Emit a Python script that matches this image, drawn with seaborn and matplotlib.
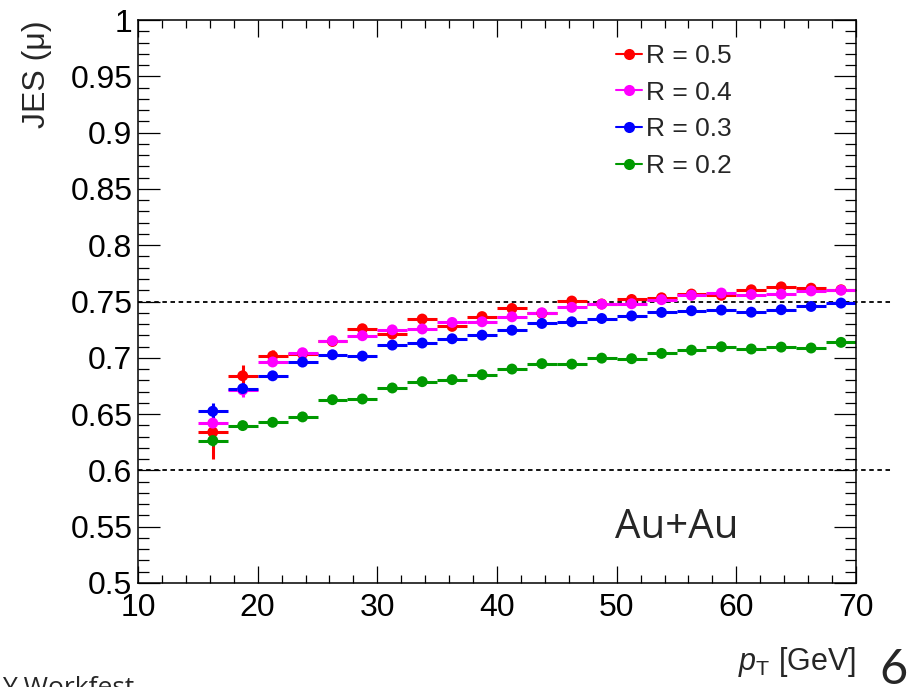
import matplotlib
matplotlib.use("Agg")
import matplotlib.pyplot as plt
from matplotlib.lines import Line2D
from matplotlib.ticker import MultipleLocator, FixedLocator
import numpy as np
import pandas as pd
import seaborn as sns

# ---------------- data ----------------
pt_bins = [16.25, 18.75, 21.25, 23.75, 26.25, 28.75, 31.25, 33.75, 36.25, 38.75, 41.25,
           43.75, 46.25, 48.75, 51.25, 53.75, 56.25, 58.75, 61.25, 63.75, 66.25, 68.75]
pt_halfwidth = 1.25

jes_r05 = [0.634, 0.684, 0.7016, 0.7035, 0.7145, 0.7258, 0.7211, 0.7344, 0.7279, 0.7366, 0.7438,
           0.7395, 0.7504, 0.7478, 0.7518, 0.7533, 0.7566, 0.7555, 0.7604, 0.7630, 0.7618, 0.7604]
jes_r04 = [0.642, 0.6714, 0.6963, 0.7045, 0.7152, 0.7196, 0.7248, 0.7256, 0.7314, 0.7320, 0.7364,
           0.7400, 0.7448, 0.7476, 0.7480, 0.7516, 0.7555, 0.7575, 0.7562, 0.7565, 0.7594, 0.7600]
jes_r03 = [0.6525, 0.6726, 0.6840, 0.6962, 0.7027, 0.7015, 0.7113, 0.7131, 0.7169, 0.7201, 0.7245,
           0.7305, 0.7320, 0.7349, 0.7372, 0.7403, 0.7418, 0.7424, 0.7405, 0.7427, 0.7456, 0.7486]
jes_r02 = [0.6265, 0.6398, 0.6427, 0.6475, 0.6628, 0.6634, 0.6732, 0.6788, 0.6806, 0.6850, 0.6900,
           0.6948, 0.6944, 0.6997, 0.6992, 0.7039, 0.7068, 0.7098, 0.7078, 0.7095, 0.7087, 0.7137]

err_r05 = [0.024, 0.0095, 0.005] + [0.002] * 19
err_r04 = [0.004, 0.006, 0.003] + [0.002] * 19
err_r03 = [0.007, 0.005, 0.002] + [0.002] * 19
err_r02 = [0.005, 0.003, 0.002] + [0.002] * 19

series_labels = ["R = 0.5", "R = 0.4", "R = 0.3", "R = 0.2"]
series_colors = ["#ff0000", "#ff00ff", "#0000ff", "#009900"]
series_values = [jes_r05, jes_r04, jes_r03, jes_r02]
series_errors = [err_r05, err_r04, err_r03, err_r02]

y_ticks = [0.5, 0.55, 0.6, 0.65, 0.7, 0.75, 0.8, 0.85, 0.9, 0.95, 1.0]
y_ticklabels = ["0.5", "0.55", "0.6", "0.65", "0.7", "0.75", "0.8", "0.85", "0.9", "0.95", "1"]
x_ticks = [10, 20, 30, 40, 50, 60, 70]
x_ticklabels = ["10", "20", "30", "40", "50", "60", "70"]
ref_lines = [0.75, 0.6]

# ---------------- style ----------------
sns.set_theme(style="ticks")
plt.rcParams["font.family"] = ["Liberation Sans", "DejaVu Sans"]
plt.rcParams["mathtext.fontset"] = "custom"
plt.rcParams["mathtext.rm"] = "Liberation Sans"
plt.rcParams["mathtext.it"] = "Liberation Sans:italic"

W, H = 914, 687
fig = plt.figure(figsize=(W / 100, H / 100), dpi=100)
ax_l, ax_r, ax_t, ax_b = 138, 856, 20, 583
ax = fig.add_axes([ax_l / W, 1 - ax_b / H, (ax_r - ax_l) / W, (ax_b - ax_t) / H])

rows = []
for lab, vals, errs in zip(series_labels, series_values, series_errors):
    for x, v, e in zip(pt_bins, vals, errs):
        rows.append({"pt": x, "jes": v, "err": e, "series": lab})
df = pd.DataFrame(rows)

for lab, col in zip(series_labels, series_colors):
    d = df[df["series"] == lab]
    ax.errorbar(d["pt"], d["jes"], xerr=pt_halfwidth, yerr=d["err"], fmt="none",
                ecolor=col, elinewidth=2.2, capsize=0, zorder=2)

sns.scatterplot(data=df, x="pt", y="jes", hue="series", hue_order=series_labels,
                palette=series_colors, s=62, edgecolor="none", legend=False, ax=ax, zorder=3)

for yv in ref_lines:
    ax.axhline(yv, xmin=0, xmax=(892 - ax_l) / (ax_r - ax_l), color="black", lw=1.3,
               ls=(0, (2.5, 2.0)), clip_on=False, zorder=1)

ax.set_xlim(10, 70)
ax.set_ylim(0.5, 1.0)
ax.xaxis.set_major_locator(FixedLocator(x_ticks))
ax.set_xticklabels(x_ticklabels)
ax.xaxis.set_minor_locator(MultipleLocator(2))
ax.yaxis.set_major_locator(FixedLocator(y_ticks))
ax.set_yticklabels(y_ticklabels)
ax.yaxis.set_minor_locator(MultipleLocator(0.01))
ax.set_xlabel("")
ax.set_ylabel("")

for s in ax.spines.values():
    s.set_linewidth(1.1)
    s.set_color("black")

ax.tick_params(axis="both", which="both", direction="in", top=True, right=True,
               colors="black", labelsize=23, width=0.9)
ax.tick_params(axis="y", which="major", length=16, pad=4)
ax.tick_params(axis="y", which="minor", length=8)
ax.tick_params(axis="x", which="major", length=12, pad=7)
ax.tick_params(axis="x", which="minor", length=6)

# axis titles
fig.text(37 / W, 1 - 20 / H, "JES (μ)", rotation=90, ha="center", va="top", fontsize=23)
fig.text(856 / W, 1 - 670 / H, r"$p_{\mathrm{T}}$ [GeV]", ha="right", va="baseline", fontsize=22)

# annotation
ax.text(49.85, 0.5396, "Au+Au", ha="left", va="baseline", fontsize=29,
        family=["Open Sans", "DejaVu Sans"])

# legend
handles = [Line2D([0], [0], color=c, lw=1.5, marker="o", markersize=8, markeredgewidth=0)
           for c in series_colors]
leg = fig.legend(handles, series_labels, loc="upper left",
                 bbox_to_anchor=(616 / W, 1 - 44 / H), frameon=False, fontsize=19,
                 handlelength=1.0, handletextpad=0.15, labelspacing=0.48,
                 borderpad=0, borderaxespad=0)

# slide decorations
fig.text(134 / W, 1 - 676 / H, "Y Workfest", ha="right", va="top", fontsize=19,
         family=["Open Sans", "DejaVu Sans"])
fig.text(893 / W, 1 - 648 / H, "6", ha="center", va="top", fontsize=35,
         family=["Lato", "DejaVu Sans"])

fig.savefig("out.png", dpi=100)
